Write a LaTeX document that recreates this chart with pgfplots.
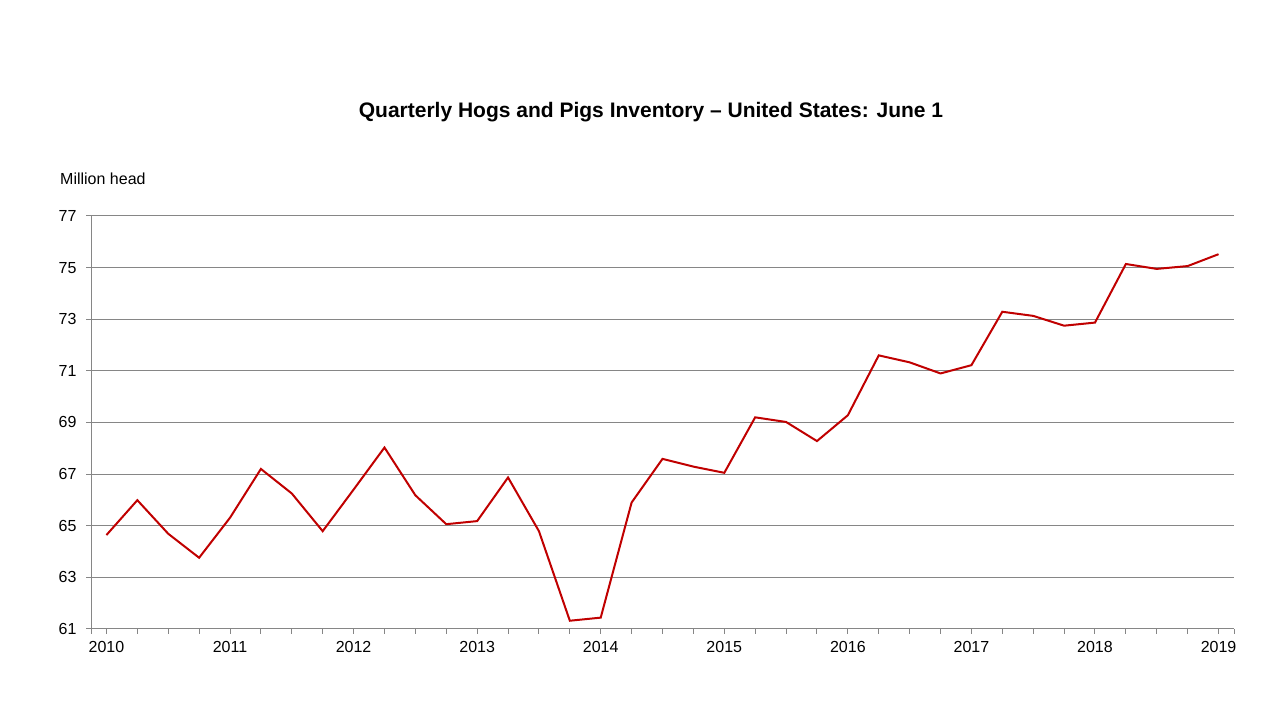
\documentclass[border=0pt]{standalone}
\usepackage{pgfplots}
\pgfplotsset{compat=1.18}
\usepackage{fontspec}
\setmainfont{Liberation Sans}
\definecolor{linered}{HTML}{C00000}
\definecolor{gridgray}{HTML}{868686}
\begin{document}
\begin{tikzpicture}[x=1bp,y=1bp]
\useasboundingbox (0,0) rectangle (1280,720);
\node[font=\fontsize{21bp}{24bp}\selectfont\bfseries] at (651,608) {Quarterly Hogs and Pigs Inventory -- United States: June 1};
\node[anchor=west,font=\fontsize{16bp}{18bp}\selectfont,inner sep=0pt] at (60,541) {Million head};
\begin{axis}[
  at={(91bp,91bp)}, anchor=south west,
  scale only axis, width=1143bp, height=413bp,
  xmin=-0.5, xmax=36.5, ymin=61, ymax=77,
  axis x line*=bottom, axis y line*=left,
  axis line style={draw=gridgray, line width=1bp, -},
  ytick={61,63,...,77},
  xtick={0,4,...,36},
  xticklabels={2010,2011,2012,2013,2014,2015,2016,2017,2018,2019},
  minor xtick={-0.5,0,1,...,36,36.5},
  tick align=outside,
  major tick length=5bp, minor tick length=5bp,
  tick style={draw=gridgray, line width=1bp},
  ymajorgrids,
  major grid style={draw=gridgray, line width=1bp},
  ticklabel style={font=\fontsize{16bp}{18bp}\selectfont},
  /pgf/number format/assume math mode=true,
  yticklabel style={xshift=-6bp},
  xticklabel style={yshift=-4bp},
  clip=false,
]
\addplot[color=linered, line width=2bp, mark=none] coordinates {
(0,64.64) (1,65.99) (2,64.69) (3,63.76) (4,65.31) (5,67.20) (6,66.25) (7,64.79)
(8,66.40) (9,68.03) (10,66.18) (11,65.06) (12,65.18) (13,66.87) (14,64.79) (15,61.32)
(16,61.44) (17,65.90) (18,67.59) (19,67.29) (20,67.05) (21,69.20) (22,69.02) (23,68.28)
(24,69.28) (25,71.60) (26,71.33) (27,70.90) (28,71.22) (29,73.29) (30,73.13) (31,72.75)
(32,72.87) (33,75.14) (34,74.95) (35,75.06) (36,75.52)
};
\end{axis}
\end{tikzpicture}
\end{document}
